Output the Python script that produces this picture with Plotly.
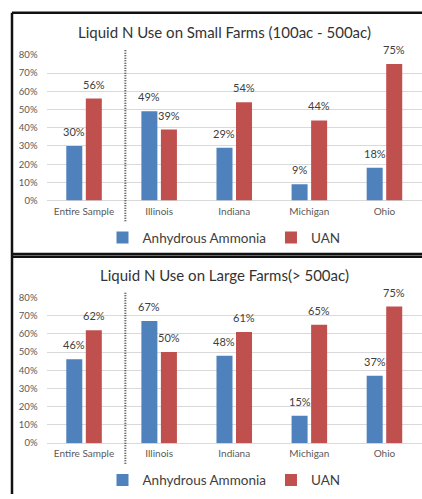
import plotly.graph_objects as go

# Survey results: share of farms using each liquid N source
categories = ["Entire Sample", "Illinois", "Indiana", "Michigan", "Ohio"]
small_anhydrous = [0.30, 0.49, 0.29, 0.09, 0.18]
small_uan = [0.56, 0.39, 0.54, 0.44, 0.75]
large_anhydrous = [0.46, 0.67, 0.48, 0.15, 0.37]
large_uan = [0.62, 0.50, 0.61, 0.65, 0.75]
y_ticks = [0, 0.1, 0.2, 0.3, 0.4, 0.5, 0.6, 0.7, 0.8]

titles = ["Liquid N Use on Small Farms (100ac - 500ac)",
          "Liquid N Use on Large Farms(> 500ac)"]

W, H = 422, 499
BLUE = "#4F81BD"
RED = "#C0504D"
FONT = "Lato"
BARGAP = 0.48

X_LEFT = 46.5                      # left edge of the plotting area (px)
CAT_W = (W - X_LEFT) / len(categories)
SLOT = CAT_W * (1 - BARGAP) / 2    # width given to each bar of a pair


def py(v):
    """pixel row -> paper y"""
    return 1 - v / H


def px(v):
    return v / W


fig = go.Figure()

panels = [
    dict(aa=small_anhydrous, uan=small_uan, xa="x", ya="y", leg="legend",
         y0=199, y80=50, title_y=27, legend_y=237),
    dict(aa=large_anhydrous, uan=large_uan, xa="x2", ya="y2", leg="legend2",
         y0=447, y80=298, title_y=275, legend_y=485),
]

for i, p in enumerate(panels):
    series = [("Anhydrous Ammonia", p["aa"], BLUE, -SLOT / 2),
              ("UAN", p["uan"], RED, SLOT / 2)]
    for name, vals, color, shift in series:
        fig.add_trace(go.Bar(
            x=categories, y=vals, name=name,
            marker=dict(color=color, line=dict(width=0)),
            xaxis=p["xa"], yaxis=p["ya"], legend=p["leg"],
            hoverinfo="skip",
        ))
        # value labels sitting a little above each bar
        for cat, v in zip(categories, vals):
            fig.add_annotation(
                x=cat, y=v, xref=p["xa"], yref=p["ya"],
                text=f"{round(v * 100)}%", showarrow=False,
                xanchor="center", yanchor="bottom",
                xshift=shift, yshift=6,
                font=dict(family=FONT, size=11, color="#404040"),
            )

    sfx = "" if i == 0 else "2"
    fig.update_layout(**{
        f"xaxis{sfx}": dict(
            domain=[px(X_LEFT), 1], anchor=p["ya"],
            showgrid=False, showline=False, ticks="",
            ticklabelstandoff=3,
            tickfont=dict(family=FONT, size=10, color="#595959"),
            fixedrange=True,
        ),
        f"yaxis{sfx}": dict(
            domain=[py(p["y0"]), py(p["y80"])], anchor=p["xa"],
            range=[0, 0.8], tickvals=y_ticks, tickformat=".0%",
            showgrid=True, gridcolor="#D9D9D9", gridwidth=1,
            zeroline=True, zerolinecolor="#D9D9D9", zerolinewidth=1,
            showline=False, ticks="",
            ticklabelstandoff=8,
            tickfont=dict(family=FONT, size=9.5, color="#595959"),
            fixedrange=True,
        ),
        p["leg"]: dict(
            orientation="h", x=px(224), xanchor="center",
            y=py(p["legend_y"]), yanchor="middle",
            font=dict(family=FONT, size=13.5, color="#404040"),
            bgcolor="rgba(0,0,0,0)", itemclick=False,
            tracegroupgap=0, itemwidth=30,
        ),
    })

    # chart title
    fig.add_annotation(
        text=titles[i], xref="paper", yref="paper",
        x=px(224), y=py(p["title_y"]), xanchor="center", yanchor="middle",
        showarrow=False, font=dict(family=FONT, size=15, color="#333333"),
    )

    # dotted separator between the whole sample and the states
    fig.add_shape(
        type="line", xref=p["xa"], yref="paper",
        x0=0.55, x1=0.55, y0=py(p["y0"] + 21), y1=py(p["y80"] - 5),
        line=dict(color="#404040", width=2, dash="1px,1.5px"),
    )

# frame lines around the two chart panels
frame = dict(color="#111111", width=2.5)
fig.add_shape(type="line", xref="paper", yref="paper",
              x0=px(12), x1=1, y0=py(7), y1=py(7), line=frame)
fig.add_shape(type="line", xref="paper", yref="paper",
              x0=px(12), x1=1, y0=py(253.5), y1=py(253.5), line=frame)
fig.add_shape(type="line", xref="paper", yref="paper",
              x0=px(12), x1=1, y0=py(256.5), y1=py(256.5), line=frame)
fig.add_shape(type="line", xref="paper", yref="paper",
              x0=px(12), x1=px(12), y0=0, y1=py(7), line=frame)

fig.update_layout(
    width=W, height=H,
    margin=dict(l=0, r=0, t=0, b=0),
    paper_bgcolor="white", plot_bgcolor="white",
    barmode="group", bargap=BARGAP, bargroupgap=0.18,
    showlegend=True,
)

fig.write_html("out.html")
